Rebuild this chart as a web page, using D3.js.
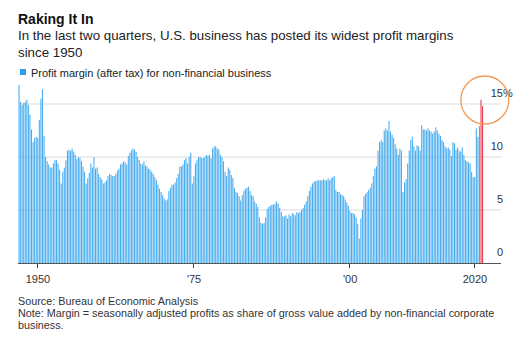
<!DOCTYPE html>
<html>
<head>
<meta charset="utf-8">
<script src="https://cdn.jsdelivr.net/npm/d3@7"></script>
<style>
  html, body { margin: 0; padding: 0; background: #fff; }
  svg { display: block; font-family: "Liberation Sans", Arial, Helvetica, sans-serif; }
</style>
</head>
<body>
<svg id="chart" width="522" height="355"></svg>
<script>
// ---- Data (quarterly, starting 1947 Q1) ----
const startYear = 1947;
const margins = [
  16.8, 15.2, 14.9, 15.1,  // 1947
  15.2, 15.4, 14.9, 14.0,  // 1948
  12.6, 11.4, 11.8, 11.9,  // 1949
  11.8, 13.5, 15.5, 16.4,  // 1950
  12.0, 10.0, 9.6, 9.3,    // 1951
  9.0, 9.0, 9.4, 9.7,      // 1952
  9.7, 9.4, 8.8, 7.5,      // 1953
  8.6, 9.0, 9.7, 10.6,     // 1954
  10.7, 10.6, 10.8, 10.5,  // 1955
  10.2, 9.8, 10.0, 9.9,    // 1956
  9.6, 9.1, 8.6, 7.5,      // 1957
  8.0, 8.5, 9.4, 9.0,      // 1958
  10.0, 8.9, 9.0, 8.4,     // 1959
  8.1, 7.9, 7.5, 7.6,      // 1960
  7.8, 8.2, 8.4, 8.3,      // 1961
  8.2, 8.2, 8.4, 8.7,      // 1962
  8.9, 9.3, 9.4, 9.6,      // 1963
  9.5, 9.3, 10.1, 10.4,    // 1964
  10.6, 10.8, 10.7, 10.5,  // 1965
  10.0, 9.7, 9.4, 9.3,     // 1966
  9.6, 9.2, 9.1, 8.9,      // 1967
  8.8, 8.6, 8.4, 8.1,      // 1968
  7.8, 7.4, 7.0, 6.7,      // 1969
  6.4, 6.1, 5.9, 6.0,      // 1970
  6.8, 7.1, 7.4, 7.4,      // 1971
  7.6, 8.0, 8.4, 9.1,      // 1972
  9.1, 9.3, 9.7, 9.9,      // 1973
  9.4, 10.0, 10.4, 7.5,    // 1974
  8.2, 9.4, 9.7, 10.0,     // 1975
  10.0, 9.9, 9.9, 10.0,    // 1976
  10.2, 10.1, 10.2, 9.9,   // 1977
  10.8, 11.0, 11.0, 10.8,  // 1978
  10.7, 10.2, 10.0, 9.6,   // 1979
  8.6, 8.2, 9.0, 8.8,      // 1980
  8.3, 8.0, 7.1, 6.7,      // 1981
  6.6, 6.3, 5.9, 6.4,      // 1982
  6.8, 7.0, 7.1, 7.2,      // 1983
  6.8, 6.4, 6.3, 5.8,      // 1984
  5.6, 5.3, 4.3, 3.8,      // 1985
  3.7, 3.8, 4.3, 5.1,      // 1986
  5.3, 5.4, 5.5, 5.5,      // 1987
  5.6, 5.8, 5.6, 5.2,      // 1988
  4.8, 4.4, 4.4, 4.5,      // 1989
  4.2, 4.6, 4.4, 4.7,      // 1990
  4.6, 4.5, 4.8, 4.7,      // 1991
  4.8, 5.0, 5.2, 5.5,      // 1992
  5.8, 6.3, 6.8, 7.2,      // 1993
  7.5, 7.7, 7.7, 7.8,      // 1994
  7.8, 7.8, 7.8, 7.9,      // 1995
  7.8, 7.8, 8.0, 7.8,      // 1996
  8.0, 8.1, 8.2, 6.9,      // 1997
  6.7, 6.7, 6.5, 6.4,      // 1998
  6.3, 6.0, 5.7, 5.4,      // 1999
  4.9, 4.7, 4.7, 4.6,      // 2000
  4.3, 3.7, 2.3, 4.2,      // 2001
  5.0, 6.3, 6.5, 6.7,      // 2002
  6.9, 7.1, 7.5, 8.2,      // 2003
  8.9, 9.1, 10.6, 11.4,    // 2004
  11.6, 11.4, 12.5, 12.7,  // 2005
  12.5, 13.4, 12.4, 12.1,  // 2006
  11.8, 11.2, 10.8, 10.2,  // 2007
  10.8, 10.6, 6.7, 7.6,    // 2008
  7.9, 9.4, 10.6, 11.6,    // 2009
  11.9, 11.0, 10.6, 11.1,  // 2010
  11.0, 10.6, 13.0, 12.6,  // 2011
  12.6, 12.5, 12.7, 12.5,  // 2012
  12.4, 12.2, 12.4, 12.8,  // 2013
  12.5, 12.2, 12.0, 11.6,  // 2014
  11.4, 11.0, 10.8, 10.9,  // 2015
  10.7, 10.1, 11.4, 11.3,  // 2016
  10.7, 10.9, 10.6, 10.5,  // 2017
  10.9, 10.2, 9.7, 9.6,    // 2018
  9.5, 9.4, 8.6, 8.1,      // 2019
  8.1, 12.7, 11.9, 12.9,   // 2020
  15.4, 14.8               // 2021
];
const highlightLast = 2;
const xTickYears = [1950, 1975, 2000, 2020];
const xTickLabels = ["1950", "'75", "'00", "2020"];
const yTicks = [0, 5, 10, 15];

const title = "Raking It In";
const subtitle = ["In the last two quarters, U.S. business has posted its widest profit margins", "since 1950"];
const legendLabel = "Profit margin (after tax) for non-financial business";
const footer = ["Source: Bureau of Economic Analysis",
  "Note: Margin = seasonally adjusted profits as share of gross value added by non-financial corporate",
  "business."];

// ---- Layout ----
const svg = d3.select("#chart");
const plotLeft = 18, plotRight = 501, plotTop = 104, plotBottom = 263;

const x = d3.scaleLinear().domain([1950, 2020]).range([37, 474]);
const y = d3.scaleLinear().domain([0, 15]).range([plotBottom, plotTop]);
const step = x(startYear + 0.25) - x(startYear);
const barW = step * 0.68;

const data = margins.map((v, i) => ({ t: startYear + i / 4, v, hi: i >= margins.length - highlightLast }));

// Titles
svg.append("text").attr("x", 18).attr("y", 24)
  .attr("font-size", 14).attr("font-weight", "bold").attr("fill", "#111").text(title);
subtitle.forEach((s, i) => {
  svg.append("text").attr("x", 18).attr("y", 40 + i * 17)
    .attr("font-size", 13.3).attr("fill", "#222").text(s);
});

// Legend
svg.append("rect").attr("x", 20).attr("y", 69).attr("width", 6).attr("height", 6).attr("fill", "#2f9ef0");
svg.append("text").attr("x", 31).attr("y", 77).attr("font-size", 11).attr("fill", "#222").text(legendLabel);

// Gridlines
svg.append("g").selectAll("line").data(yTicks.filter(d => d > 0)).join("line")
  .attr("x1", plotLeft).attr("x2", plotRight)
  .attr("y1", d => y(d)).attr("y2", d => y(d))
  .attr("stroke", "#dcdcdc").attr("stroke-width", 1);

// Bars
svg.append("g").selectAll("rect").data(data).join("rect")
  .attr("x", d => x(d.t) + (step - barW) / 2)
  .attr("width", barW)
  .attr("y", d => y(d.v))
  .attr("height", d => y(0) - y(d.v))
  .attr("fill", d => d.hi ? "#e5384f" : "#48acef");

// Baseline axis
svg.append("line").attr("x1", plotLeft).attr("x2", plotRight)
  .attr("y1", plotBottom + 0.5).attr("y2", plotBottom + 0.5)
  .attr("stroke", "#555").attr("stroke-width", 1);

// X ticks
const xt = svg.append("g");
xt.selectAll("line").data(xTickYears).join("line")
  .attr("x1", d => Math.round(x(d)) + 0.5).attr("x2", d => Math.round(x(d)) + 0.5)
  .attr("y1", plotBottom + 1).attr("y2", plotBottom + 5)
  .attr("stroke", "#444");
xt.selectAll("text").data(xTickYears).join("text")
  .attr("x", d => x(d) + 1).attr("y", 283)
  .attr("text-anchor", "middle").attr("font-size", 11).attr("fill", "#333")
  .text((d, i) => xTickLabels[i]);

// Y labels (right side, above gridlines)
const yl = svg.append("g");
yl.selectAll("text").data(yTicks).join("text")
  .attr("x", 503).attr("y", d => y(d) - 7)
  .attr("text-anchor", "end").attr("font-size", 11).attr("fill", "#333")
  .text(d => d);
svg.append("text").attr("x", 503).attr("y", y(15) - 7)
  .attr("font-size", 11).attr("fill", "#333").text("%");

// Highlight circle
const lastT = data[data.length - 1].t;
svg.append("circle").attr("cx", x(lastT) + 3).attr("cy", y(15) - 4).attr("r", 24)
  .attr("fill", "none").attr("stroke", "#f29a55").attr("stroke-width", 1.3);

// Footer
footer.forEach((s, i) => {
  svg.append("text").attr("x", 18).attr("y", 305 + i * 12)
    .attr("font-size", 10.8).attr("fill", "#333").text(s);
});
</script>
</body>
</html>
